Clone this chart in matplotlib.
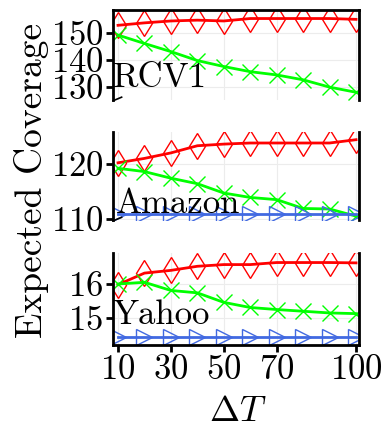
import matplotlib
matplotlib.use("Agg")
import matplotlib.pyplot as plt

plt.rcParams['font.family'] = ['cmr10', 'DejaVu Serif']
plt.rcParams['mathtext.fontset'] = 'cm'
plt.rcParams['axes.formatter.use_mathtext'] = True

dT = [10, 20, 30, 40, 50, 60, 70, 80, 90, 100]
xticks = [10, 30, 50, 70, 100]

rcv1_red = [152.7, 153.6, 154.3, 154.6, 154.3, 155.2, 155.2, 155.2, 155.2, 154.9]
rcv1_green = [149.1, 146.0, 143.0, 139.7, 137.5, 135.6, 134.4, 132.6, 129.9, 128.0]

amz_red = [120.2, 121.0, 122.0, 123.3, 123.6, 123.8, 123.8, 123.8, 123.8, 124.4]
amz_green = [119.2, 118.6, 117.4, 116.4, 114.7, 113.9, 113.5, 111.9, 111.8, 110.5]
amz_blue = [110.9] * 10

yah_red = [15.97, 16.31, 16.39, 16.51, 16.56, 16.56, 16.62, 16.62, 16.62, 16.61]
yah_green = [15.99, 16.04, 15.80, 15.73, 15.45, 15.30, 15.24, 15.19, 15.14, 15.12]
yah_blue = [14.42] * 10

panels = [
    ("RCV1", [rcv1_red, rcv1_green, None], (125.2, 158.3), [130, 140, 150], (0.0, 0.06)),
    ("Amazon", [amz_red, amz_green, amz_blue], (109.8, 125.8), [110, 120], (0.01, 0.0)),
    ("Yahoo", [yah_red, yah_green, yah_blue], (14.2, 16.9), [15, 16], (0.0, 0.15)),
]

fig = plt.figure(figsize=(3.91, 4.40), dpi=100)
rects = [(0.289, 0.773, 0.629, 0.204), (0.289, 0.500, 0.629, 0.200), (0.289, 0.216, 0.629, 0.209)]

styles = [
    dict(color='#ff0000', marker='d', ms=13, mfc='none', mew=1.0, lw=2),
    dict(color='#00ff00', marker='x', ms=12, mew=1.0, lw=2),
    dict(color='royalblue', marker='>', ms=11, mfc='none', mew=1.0, lw=2),
]

for i, (name, series, ylim, yt, lpos) in enumerate(panels):
    ax = fig.add_axes(rects[i])
    for s, st in zip(series, styles):
        if s is not None:
            ax.plot(dT, s, **st)
    ax.set_xlim(8.1, 101.1)
    ax.set_ylim(*ylim)
    ax.set_yticks(yt)
    ax.set_xticks(xticks)
    ax.grid(True, color='#ececec', lw=0.8)
    ax.set_axisbelow(True)
    for sp in ax.spines.values():
        sp.set_linewidth(2)
    ax.tick_params(axis='y', labelsize=25, width=2, length=5, direction='out', pad=2)
    ax.tick_params(axis='x', labelsize=25, width=2, length=5, direction='out', pad=2)
    if i != 0:
        ax.spines['top'].set_visible(False)
    if i != 2:
        ax.spines['bottom'].set_visible(False)
        ax.tick_params(axis='x', bottom=False, labelbottom=False)
        ax.plot([0.0, 0.035], [-0.01, 0.03], transform=ax.transAxes,
                color='k', lw=1.2, clip_on=False)
    ax.text(lpos[0], lpos[1], name, transform=ax.transAxes, fontsize=25,
            ha='left', va='bottom')

fig.text(0.08, 0.59, 'Expected Coverage', rotation=90, fontsize=27,
         ha='center', va='center')
fig.text(0.607, 0.063, r'$\Delta T$', fontsize=26, ha='center', va='center')

fig.savefig('out.png', dpi=100)
